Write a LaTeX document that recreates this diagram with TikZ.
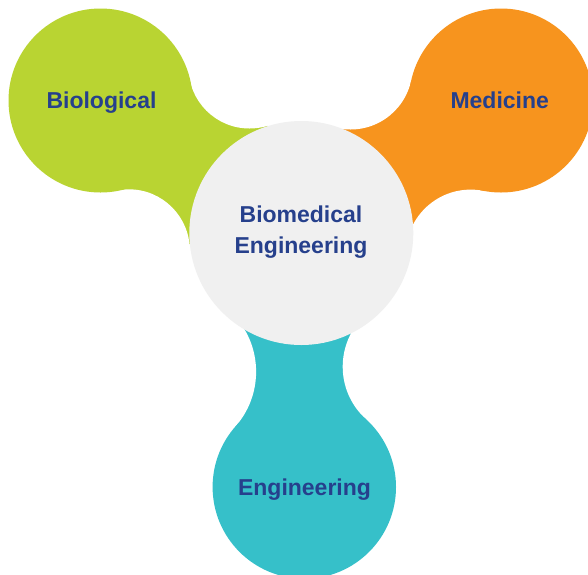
\documentclass[tikz,border=0pt]{standalone}
\usepackage{fontspec}
\setmainfont{Liberation Sans}
\definecolor{cgreen}{RGB}{185,212,50}
\definecolor{corange}{RGB}{247,148,30}
\definecolor{cteal}{RGB}{54,192,201}
\definecolor{cgray}{RGB}{240,240,240}
\definecolor{ctext}{RGB}{38,64,140}
\tikzset{
  lbl/.style={font=\fontsize{23}{31}\selectfont\bfseries, text=ctext, inner sep=0pt},
  bridge/.style={fill=white}
}
\begin{document}
\begin{tikzpicture}[x=1pt,y=-1pt]
\fill[white] (0,0) rectangle (588,574);
\useasboundingbox (0,0) rectangle (588,574);
\coordinate (C) at (301.3,233);
\coordinate (A) at (100.5,100.5);
\coordinate (B) at (501,100.5);
\coordinate (D) at (304.3,487);
% necks
\fill[cgreen] (A) -- (189.9,80.7) -- (267.7,125.7) -- (C) -- (189.5,244.2) -- (117.5,190.3) -- cycle;
\fill[corange] (B) -- (411.1,80.8) -- (332.8,126.9) -- (C) -- (406.2,246.4) -- (483.2,190.8) -- cycle;
\fill[cteal] (D) -- (235.4,426.5) -- (229.4,310.8) -- (C) -- (368,312.5) -- (365.9,419.1) -- cycle;
% concave bridges
\fill[bridge] (249.5,67.5) circle[radius=61];
\fill[bridge] (128.8,250.3) circle[radius=61];
\fill[bridge] (350.5,67.5) circle[radius=62];
\fill[bridge] (470.7,254.6) circle[radius=65];
\fill[bridge] (173.1,371.7) circle[radius=83];
\fill[bridge] (413.4,366.7) circle[radius=70.7];
% main circles
\fill[cgreen] (A) circle[radius=92];
\fill[corange] (B) circle[radius=92];
\fill[cteal] (D) circle[radius=91.7];
\fill[cgray] (C) circle[radius=112];
% labels
\node[lbl, anchor=base] (bio) at (101.5,108.3) {Biological};
\node[lbl, anchor=base] (med) at (499.7,108.3) {Medicine};
\node[lbl, anchor=base] (eng) at (304.5,495) {Engineering};
\node[lbl, align=center] (bme) at (301,232) {Biomedical\\Engineering};
\end{tikzpicture}
\end{document}
